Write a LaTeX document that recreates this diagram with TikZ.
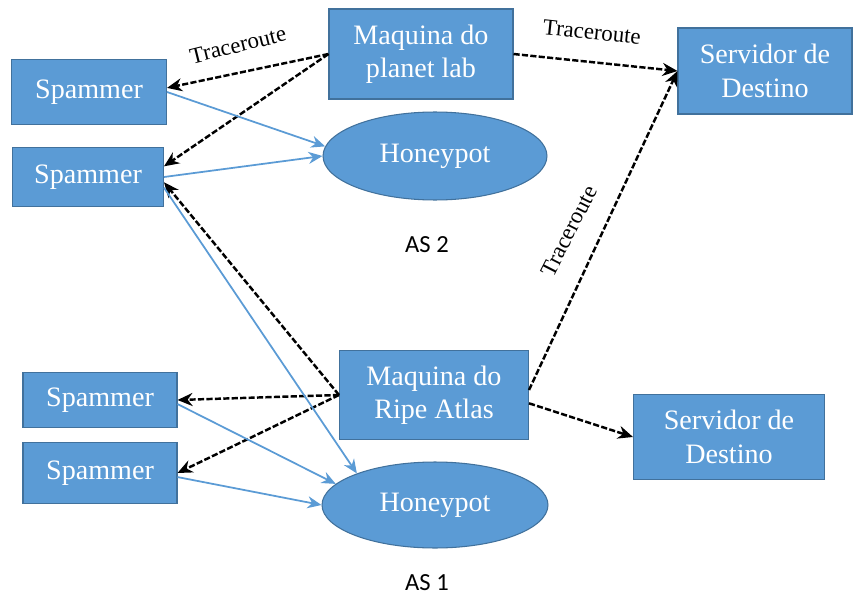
\documentclass[tikz,border=0pt]{standalone}
\usepackage{fontspec}
\setmainfont{Liberation Serif}
\newfontfamily\asfont{Carlito}
\usepackage{xcolor}
\usepackage{tikz}
\usetikzlibrary{arrows.meta, positioning, shapes.geometric}

\definecolor{boxblue}{HTML}{5B9BD5}
\definecolor{boxedge}{HTML}{41719C}

\begin{document}
\begin{tikzpicture}[
    x=0.02cm, y=-0.02cm,
    box/.style={rectangle, draw=boxedge, line width=0.6pt, fill=boxblue, text=white, inner sep=0pt, align=center, font=\fontsize{16}{19}\selectfont},
    pot/.style={ellipse, draw=boxedge, line width=0.6pt, fill=boxblue, text=white, inner sep=0pt, font=\fontsize{16}{19}\selectfont},
    trace/.style={-{Stealth[length=3mm, width=2.6mm]}, black, line width=1.4pt, dash pattern=on 3.5pt off 1.3pt},
    mail/.style={-{Stealth[length=2.8mm, width=2.4mm]}, boxblue, line width=1pt},
    tlabel/.style={font=\fontsize{13}{15}\selectfont, inner sep=0pt},
    aslabel/.style={font=\asfont\fontsize{14}{16}\selectfont, inner sep=0pt}
]
    \useasboundingbox (0,0) rectangle (855,598);

    % AS 2: top half
    \node[box, minimum width=3.1cm, minimum height=1.3cm] (sp1) at (89,92) {Spammer};
    \node[box, minimum width=3.02cm, minimum height=1.18cm] (sp2) at (88,177) {Spammer};
    \node[box, minimum width=3.68cm, minimum height=1.8cm] (planet) at (421,54) {Maquina do\\planet lab};
    \node[pot, minimum width=4.48cm, minimum height=1.76cm] (potA) at (435,156) {Honeypot};
    \node[box, minimum width=3.48cm, minimum height=1.72cm] (destA) at (765,71) {Servidor de\\Destino};
    \node[aslabel] (as2) at (427,245) {AS 2};

    % AS 1: bottom half
    \node[box, minimum width=3.08cm, minimum height=1.1cm] (sp3) at (100,400) {Spammer};
    \node[box, minimum width=3.08cm, minimum height=1.22cm] (sp4) at (100,473) {Spammer};
    \node[box, minimum width=3.78cm, minimum height=1.78cm] (ripe) at (434,395) {Maquina do\\Ripe Atlas};
    \node[pot, minimum width=4.52cm, minimum height=1.72cm] (potB) at (435,505) {Honeypot};
    \node[box, minimum width=3.82cm, minimum height=1.7cm] (destB) at (729,437) {Servidor de\\Destino};
    \node[aslabel] (as1) at (427,583) {AS 1};

    % Traceroute labels
    \node[tlabel, rotate=14] (trA) at (238,45) {Traceroute};
    \node[tlabel, rotate=-6] (trB) at (592,32) {Traceroute};
    \node[tlabel, rotate=63] (trC) at (569,231) {Traceroute};

    % Traceroute arrows (planet lab)
    \draw[trace] (planet.west) -- (sp1.3);
    \draw[trace] (planet.west) -- (sp2.8);
    \draw[trace] (planet.east) -- (destA.west);

    % Traceroute arrows (Ripe Atlas)
    \draw[trace] (ripe.west) -- (sp2.-4);
    \draw[trace] (ripe.west) -- (sp3.east);
    \draw[trace] (ripe.west) -- (sp4.east);
    \draw[trace] (ripe.3) -- (destA.west);
    \draw[trace] (ripe.-5) -- (destB.west);

    % Spam to honeypots
    \draw[mail] (sp1.east) -- (potA.175);
    \draw[mail] (sp2.east) -- (potA.west);
    \draw[mail] (sp2.-8) -- (potB.158);
    \draw[mail] (sp3.-3) -- (potB.168);
    \draw[mail] (sp4.-3) -- (potB.west);
\end{tikzpicture}
\end{document}
